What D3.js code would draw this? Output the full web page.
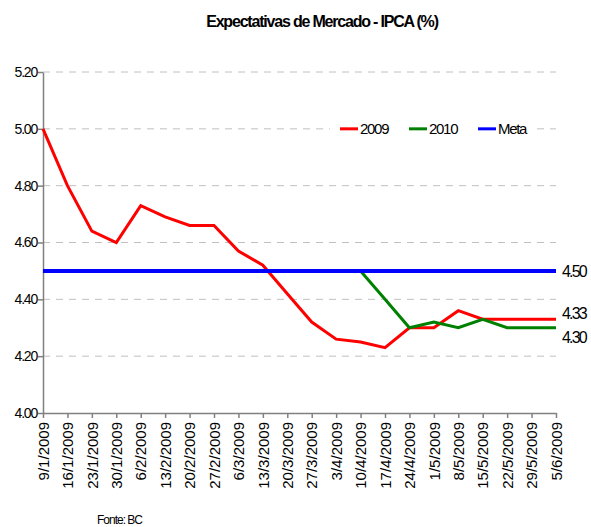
<!DOCTYPE html>
<meta charset="utf-8">
<style>
body { margin: 0; background: #fff; }
text { font-family: "Liberation Sans", Arial, sans-serif; fill: #000; }
.grid line { stroke: #c0c0c0; stroke-dasharray: 7,6; }
.axis path, .axis line { stroke: #808080; stroke-width: 1.5; }
.line { fill: none; stroke-linejoin: miter; }
</style>
<body>
<script src="https://d3js.org/d3.v7.min.js"></script>
<script>
// datas (semanas de 2009)
var dates = ["9/1/2009","16/1/2009","23/1/2009","30/1/2009","6/2/2009","13/2/2009","20/2/2009",
  "27/2/2009","6/3/2009","13/3/2009","20/3/2009","27/3/2009","3/4/2009","10/4/2009","17/4/2009",
  "24/4/2009","1/5/2009","8/5/2009","15/5/2009","22/5/2009","29/5/2009","5/6/2009"];
var ipca2009 = [5.00,4.80,4.64,4.60,4.73,4.69,4.66,4.66,4.57,4.52,4.42,4.32,4.26,4.25,4.23,
  4.30,4.30,4.36,4.33,4.33,4.33,4.33];
var ipca2010 = [4.50,4.50,4.50,4.50,4.50,4.50,4.50,4.50,4.50,4.50,4.50,4.50,4.50,4.50,4.40,
  4.30,4.32,4.30,4.33,4.30,4.30,4.30];
var meta = dates.map(function() { return 4.50; });
var yTicks = [4.00,4.20,4.40,4.60,4.80,5.00,5.20];

var series = [
  {name: "2009", values: ipca2009, color: "#ff0000", width: 3},
  {name: "2010", values: ipca2010, color: "#008000", width: 3},
  {name: "Meta", values: meta, color: "#0000ff", width: 4}
];

var margin = {top: 72, right: 35, bottom: 114, left: 43},
    width = 591 - margin.left - margin.right,
    height = 527 - margin.top - margin.bottom;

var svg = d3.select("body").append("svg")
    .attr("width", 591).attr("height", 527);

svg.append("text")
    .attr("x", 322).attr("y", 27)
    .attr("text-anchor", "middle")
    .style("font-size", "16px").style("font-weight", "bold").style("letter-spacing", "-1.2px")
    .text("Expectativas de Mercado - IPCA (%)");

var g = svg.append("g").attr("transform", "translate(" + margin.left + "," + margin.top + ")");

var x = d3.scalePoint().domain(dates).range([0, width]);
var y = d3.scaleLinear().domain([4.0, 5.2]).range([height, 0]);

// grade
g.append("g").attr("class", "grid")
  .selectAll("line").data(yTicks.slice(1)).enter().append("line")
    .attr("x1", 0).attr("x2", width)
    .attr("y1", function(d) { return y(d); }).attr("y2", function(d) { return y(d); });

// eixos
var yAxis = g.append("g").attr("class", "axis")
    .call(d3.axisLeft(y).tickValues(yTicks).tickFormat(d3.format(".2f")).tickSize(5).tickSizeOuter(0));
yAxis.selectAll("text").style("font-size", "14px").style("letter-spacing", "-1.2px").attr("x", -6);

var xAxis = g.append("g").attr("class", "axis")
    .attr("transform", "translate(0," + height + ")")
    .call(d3.axisBottom(x).tickSize(5).tickSizeOuter(0));
xAxis.selectAll("text")
    .style("font-size", "15px")
    .attr("text-anchor", "end")
    .attr("transform", "rotate(-90)")
    .attr("x", -9).attr("y", 0).attr("dy", "0.35em");

// linhas
var line = d3.line()
    .x(function(d, i) { return x(dates[i]); })
    .y(function(d) { return y(d); });

g.selectAll(".line").data(series).enter().append("path")
    .attr("class", "line")
    .attr("stroke", function(d) { return d.color; })
    .attr("stroke-width", function(d) { return d.width; })
    .attr("d", function(d) { return line(d.values); });

// rótulos finais
var ends = [
  {v: meta[meta.length - 1], dy: 6.5},
  {v: ipca2009[ipca2009.length - 1], dy: 0},
  {v: ipca2010[ipca2010.length - 1], dy: 15}
];
g.selectAll(".endlbl").data(ends).enter().append("text")
    .attr("class", "endlbl")
    .attr("x", width + 6)
    .attr("y", function(d) { return y(d.v) + d.dy; })
    .style("font-size", "16px").style("letter-spacing", "-1.8px")
    .text(function(d) { return d.v.toFixed(2); });

// legenda
var leg = g.append("g").attr("transform", "translate(287," + y(5.0) + ")");
leg.append("rect").attr("x", 0).attr("y", -8).attr("width", 207).attr("height", 16).attr("fill", "#fff");
var li = leg.selectAll(".li").data(series).enter().append("g")
    .attr("transform", function(d, i) { return "translate(" + (10 + i * 69) + ",0)"; });
li.append("line").attr("x1", 0).attr("x2", 18).attr("y1", 0).attr("y2", 0)
    .attr("stroke", function(d) { return d.color; }).attr("stroke-width", 3);
li.append("text").attr("x", 20).attr("y", 5)
    .style("font-size", "15px").style("letter-spacing", "-1.3px")
    .text(function(d) { return d.name; });

svg.append("text")
    .attr("x", 97).attr("y", 524)
    .style("font-size", "12px").style("letter-spacing", "-1px")
    .text("Fonte: BC");
</script>
</body>
